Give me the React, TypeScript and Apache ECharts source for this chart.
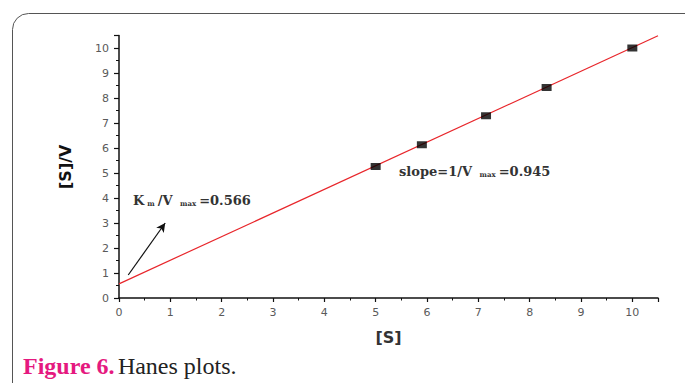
import React, { useEffect, useRef } from "react";
import * as echarts from "echarts";

const sValues = [5.0, 5.9, 7.15, 8.33, 10.0];
const sOverV = [5.26, 6.13, 7.29, 8.42, 10.0];
const fitLine = [
  [0, 0.566],
  [10.5, 10.488],
];
const arrowFrom = [0.18, 0.92];
const arrowTo = [0.9, 3.0];
const xTicks = [0, 1, 2, 3, 4, 5, 6, 7, 8, 9, 10];
const yTicks = [0, 1, 2, 3, 4, 5, 6, 7, 8, 9, 10];

export default function App() {
  const ref = useRef<HTMLDivElement>(null);
  useEffect(() => {
    document.body.style.margin = "0";
    const chart = echarts.init(ref.current!, undefined, { renderer: "svg" });
    const labelStyle = {
      color: "#5a5a5a",
      fontFamily: "DejaVu Sans, sans-serif",
      fontSize: 11,
    };
    const ann = {
      a: { fontFamily: "DejaVu Serif", fontWeight: "bold", fontSize: 13, fill: "#333" },
      s: { fontFamily: "DejaVu Serif", fontWeight: "bold", fontSize: 7, fill: "#333", padding: [7, 3, 0, 3] },
    };
    chart.setOption({
      animation: false,
      backgroundColor: "#ffffff",
      grid: { left: 119, right: 27, top: 35.5, bottom: 85 },
      xAxis: {
        type: "value",
        min: 0,
        max: 10.5,
        interval: 1,
        name: "[S]",
        nameLocation: "middle",
        nameGap: 31,
        nameTextStyle: {
          color: "#333",
          fontWeight: "bold",
          fontSize: 16,
          fontFamily: "DejaVu Sans, sans-serif",
        },
        axisLine: { onZero: false, lineStyle: { color: "#111", width: 1.5 } },
        axisTick: { length: 4, lineStyle: { color: "#111", width: 1.2 } },
        minorTick: { show: true, splitNumber: 2, length: 2.5, lineStyle: { color: "#111", width: 1 } },
        splitLine: { show: false },
        axisLabel: {
          ...labelStyle,
          margin: 9,
          showMaxLabel: false,
          formatter: (v: number) => (xTicks.includes(v) ? String(v) : ""),
        },
      },
      yAxis: {
        type: "value",
        min: 0,
        max: 10.5,
        interval: 1,
        name: "[S]/V",
        nameLocation: "middle",
        nameGap: 46,
        nameRotate: 90,
        nameTextStyle: {
          color: "#111",
          fontWeight: "bold",
          fontSize: 16,
          fontFamily: "DejaVu Sans, sans-serif",
          padding: [0, 0, 0, 0],
        },
        axisLine: { onZero: false, lineStyle: { color: "#111", width: 1.5 } },
        axisTick: { length: 5, lineStyle: { color: "#111", width: 1.2 } },
        minorTick: { show: true, splitNumber: 2, length: 3, lineStyle: { color: "#111", width: 1 } },
        splitLine: { show: false },
        axisLabel: {
          ...labelStyle,
          margin: 10,
          showMaxLabel: false,
          formatter: (v: number) => (yTicks.includes(v) ? String(v) : ""),
        },
      },
      series: [
        {
          type: "line",
          data: fitLine,
          symbol: "none",
          lineStyle: { color: "#e8262b", width: 1.2 },
          z: 2,
          markLine: {
            silent: true,
            symbol: ["none", "arrow"],
            symbolSize: [7, 9],
            label: { show: false },
            lineStyle: { color: "#111", width: 1.2, type: "solid" },
            data: [[{ coord: arrowFrom }, { coord: arrowTo }]],
          },
        },
        {
          type: "scatter",
          data: sValues.map((s, i) => [s, sOverV[i]]),
          symbol: "rect",
          symbolSize: [10, 7],
          itemStyle: { color: "#000" },
          z: 3,
        },
      ],
      graphic: [
        {
          type: "rect",
          shape: { x: 12.5, y: 13.5, width: 720, height: 420, r: 16 },
          style: { fill: "none", stroke: "#555", lineWidth: 1 },
          silent: true,
        },
        {
          type: "text",
          x: 133,
          y: 200,
          style: {
            text: "{a|K}{s|m}{a|/V }{s|max}{a|=0.566}",
            verticalAlign: "middle",
            rich: ann,
          },
        },
        {
          type: "text",
          x: 399,
          y: 171,
          style: {
            text: "{a|slope=1/V }{s|max}{a|=0.945}",
            verticalAlign: "middle",
            rich: ann,
          },
        },
        {
          type: "text",
          x: 23,
          y: 366,
          style: {
            text: "{f|Figure 6.} {h|Hanes plots.}",
            verticalAlign: "middle",
            rich: {
              f: { fontFamily: "Liberation Serif", fontWeight: "bold", fontSize: 24, fill: "#e5197f" },
              h: { fontFamily: "Liberation Serif", fontSize: 24, fill: "#222" },
            },
          },
        },
      ],
    });
    return () => chart.dispose();
  }, []);
  return (
    <div
      ref={ref}
      style={{ position: "absolute", left: 0, top: 0, width: 685, height: 383 }}
    />
  );
}
